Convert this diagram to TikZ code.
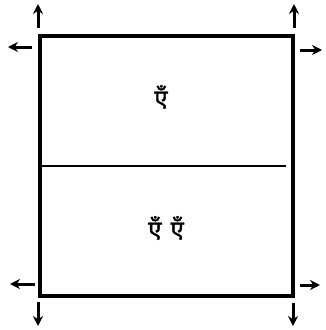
\documentclass[tikz,border=0pt]{standalone}
\usepackage{fontspec}
\newfontfamily\devfont[Script=Devanagari,FakeBold=1.5]{Noto Sans}
\usetikzlibrary{arrows.meta}
\tikzset{
  frame/.style={line width=3.4pt},
  divider/.style={line width=1.5pt},
  outarrow/.style={-{Stealth[length=10pt,width=10pt]}, line width=3pt},
  label/.style={font=\devfont\fontsize{24}{26}\selectfont},
}
\begin{document}
\begin{tikzpicture}[x=1pt,y=-1pt]
  \useasboundingbox (0,0) rectangle (326,330);
  % corners of the sheet
  \coordinate (tl) at (40,36);
  \coordinate (tr) at (293,36);
  \coordinate (bl) at (40,296);
  \coordinate (br) at (293,296);
  \draw[frame] (tl) rectangle (br);
  \draw[divider] (40,166) -- (286,166);

  \node[label] (upper) at (161,97) {एँ};
  \node[label] (lower) at (166,228) {एँ\kern9pt एँ};

  % arrows leaving the corners
  \draw[outarrow] ([xshift=-2,yshift=8]tl) -- ([xshift=-2,yshift=32]tl);
  \draw[outarrow] ([xshift=-8,yshift=-11]tl) -- ([xshift=-32,yshift=-11]tl);
  \draw[outarrow] ([xshift=1,yshift=8]tr) -- ([xshift=1,yshift=32]tr);
  \draw[outarrow] ([xshift=7,yshift=-14]tr) -- ([xshift=29,yshift=-14]tr);
  \draw[outarrow] ([xshift=-5,yshift=12]bl) -- ([xshift=-30,yshift=12]bl);
  \draw[outarrow] ([xshift=-2,yshift=-6]bl) -- ([xshift=-2,yshift=-30]bl);
  \draw[outarrow] ([xshift=7,yshift=11]br) -- ([xshift=27,yshift=11]br);
  \draw[outarrow] ([yshift=-7]br) -- ([yshift=-30]br);
\end{tikzpicture}
\end{document}
